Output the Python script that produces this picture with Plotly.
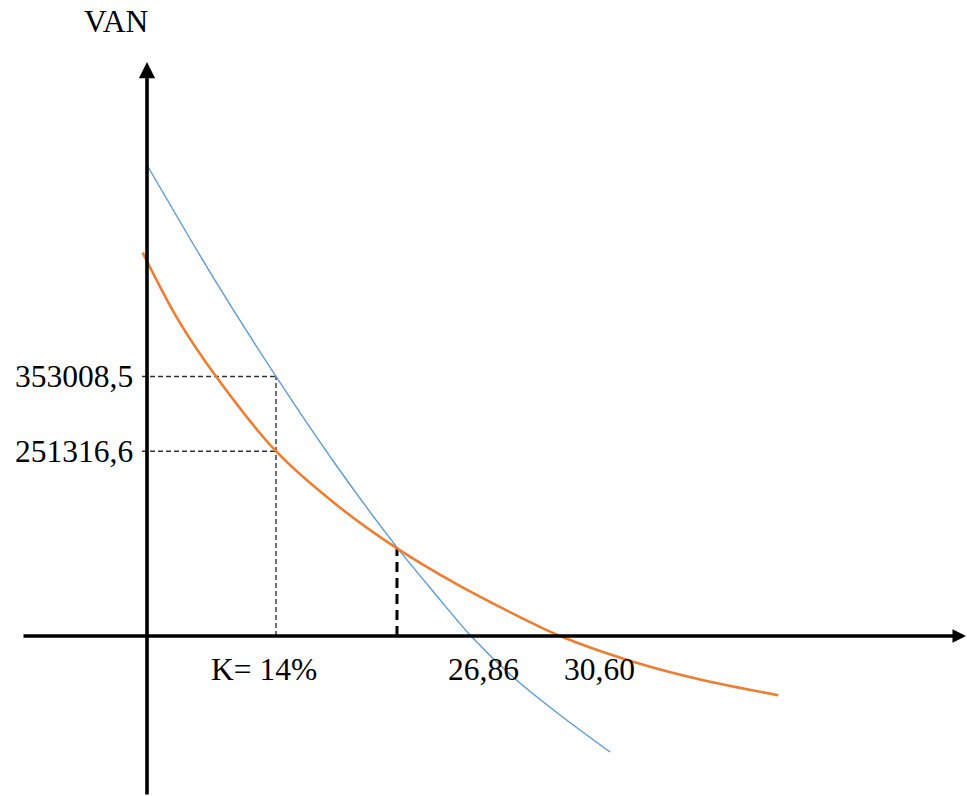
import plotly.graph_objects as go

# ---------------- data (schematic scale: x = taux en %, y = VAN) ----------------
blue_taux = [0, 6.95, 14.0, 20.51, 27.13, 31.15, 35.16, 39.72, 44.82, 50.25]
blue_van = [640560, 492590, 353008.5, 232560, 120500, 59160, 0, -55760, -107440, -157760]

orange_taux = [-0.47, 3.22, 7.56, 14.0, 20.59, 27.10, 33.61, 40.48, 44.82, 52.76, 60.37, 68.51]
orange_van = [521290, 433430, 351830, 251316.6, 178160, 119410, 70450, 25700, 0, -34950, -60110, -80510]

k_taux = 14.0
k_van_values = [353008.5, 251316.6]
y_tick_text = ["353008,5", "251316,6"]

fisher_taux = 27.13
fisher_van = 120000

tri_labels = ["K= 14%", "26,86", "30,60"]
tri_anchor_taux = [k_taux, 35.16, 44.82]   # where each label sits on the schematic axis

axis_title_y = "VAN"

# ---------------- layout geometry ----------------
W, H = 967, 796
PX_PER_PCT = 9.2143
VAN_PER_PX = 1360.0
X0_PX, Y0_PX = 147, 636           # pixel position of the origin


def sx(px):
    """pixel x -> data x"""
    return (px - X0_PX) / PX_PER_PCT


def sy(py):
    """pixel y -> data y"""
    return (Y0_PX - py) * VAN_PER_PX


x_range = [sx(0), sx(W)]
y_range = [sy(H), sy(0)]

BLUE = "#5B9BD5"
ORANGE = "#ED7D31"
FONT = "Liberation Serif, Times New Roman, serif"
FS = 31.5

fig = go.Figure()

# helper dashed lines (thin)
left_start = sx(142)
for v in k_van_values:
    fig.add_trace(go.Scatter(x=[left_start, k_taux], y=[v, v], mode="lines",
                             line=dict(color="#333333", width=1.4, dash="5px,3px"),
                             hoverinfo="skip", showlegend=False))
fig.add_trace(go.Scatter(x=[k_taux, k_taux], y=[0, max(k_van_values)], mode="lines",
                         line=dict(color="#333333", width=1.4, dash="5px,3px"),
                         hoverinfo="skip", showlegend=False))
# thick dashed line at intersection
fig.add_trace(go.Scatter(x=[fisher_taux, fisher_taux], y=[0, fisher_van], mode="lines",
                         line=dict(color="black", width=3, dash="10px,6px"),
                         hoverinfo="skip", showlegend=False))

# curves
fig.add_trace(go.Scatter(x=blue_taux, y=blue_van, mode="lines",
                         line=dict(color=BLUE, width=1.4, shape="spline", smoothing=0.8),
                         showlegend=False))
fig.add_trace(go.Scatter(x=orange_taux, y=orange_van, mode="lines",
                         line=dict(color=ORANGE, width=2.6, shape="spline", smoothing=0.8),
                         showlegend=False))

annotations = []
# x axis arrow
annotations.append(dict(x=sx(W - 1), y=0, xref="x", yref="y",
                         ax=sx(22), ay=0, axref="x", ayref="y",
                         showarrow=True, arrowhead=2, arrowsize=0.75, arrowwidth=3.6,
                         arrowcolor="black", text="", standoff=0, startstandoff=0))
# y axis arrow
annotations.append(dict(x=0, y=sy(62), xref="x", yref="y",
                         ax=0, ay=sy(H), axref="x", ayref="y",
                         showarrow=True, arrowhead=2, arrowsize=0.9, arrowwidth=3.6,
                         arrowcolor="black", text="", standoff=0, startstandoff=0))
# VAN title
annotations.append(dict(x=sx(115.5), y=sy(21.5), xref="x", yref="y",
                         text=axis_title_y, showarrow=False, xanchor="center", yanchor="middle",
                         font=dict(family=FONT, size=FS, color="black")))
# y labels
for v, t in zip(k_van_values, y_tick_text):
    annotations.append(dict(x=0, y=v, xref="x", yref="y", text=t, showarrow=False,
                             xanchor="right", yanchor="middle", xshift=-12,
                             font=dict(family=FONT, size=FS, color="black")))
# x labels
x_shifts = [-12, 13, 40]
for t, xv, sh in zip(tri_labels, tri_anchor_taux, x_shifts):
    annotations.append(dict(x=xv, y=0, xref="x", yref="y", text=t, showarrow=False,
                             xanchor="center", yanchor="middle", xshift=sh, yshift=-33,
                             font=dict(family=FONT, size=FS, color="black")))

fig.update_layout(
    width=W, height=H,
    margin=dict(l=0, r=0, t=0, b=0),
    paper_bgcolor="white", plot_bgcolor="white",
    xaxis=dict(range=x_range, visible=False, fixedrange=True),
    yaxis=dict(range=y_range, visible=False, fixedrange=True),
    annotations=annotations,
    showlegend=False,
    hovermode=False,
)

fig.write_html("out.html",
               config={"displayModeBar": False, "staticPlot": True},
               post_script="document.body.style.margin='0';document.body.style.overflow='hidden';")
